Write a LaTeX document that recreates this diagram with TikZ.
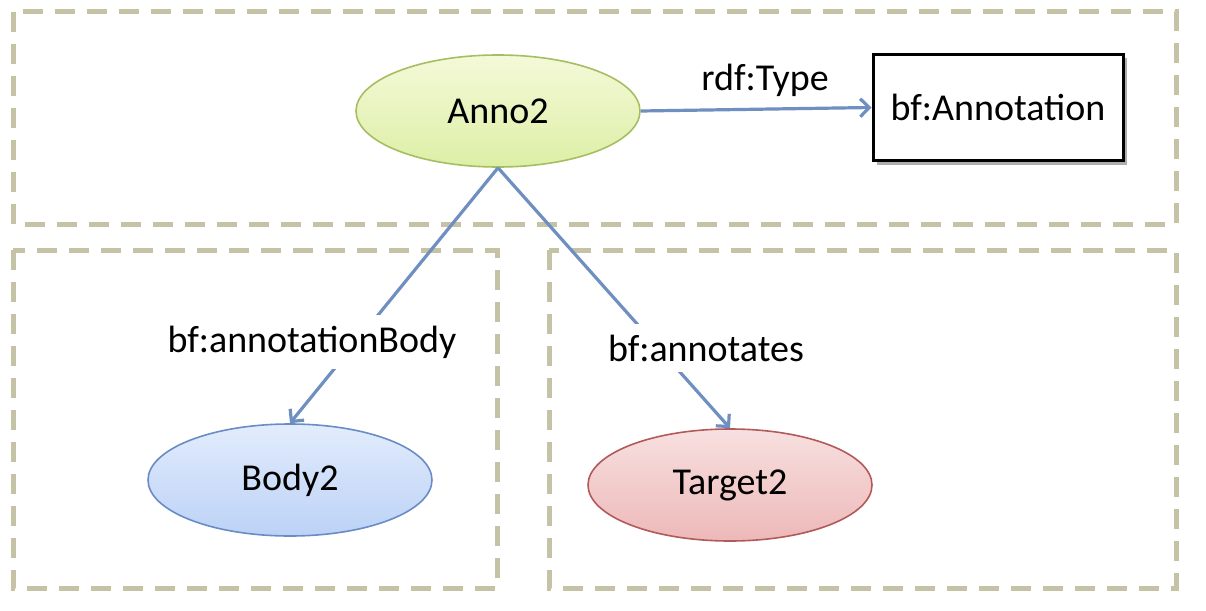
\documentclass[tikz,border=0pt]{standalone}
\usepackage{fontspec}
\setmainfont{Carlito}
\usetikzlibrary{shapes.geometric,arrows.meta,shadows}
\definecolor{dashc}{HTML}{C6C2A6}
\definecolor{arrc}{HTML}{6F8FC0}
\definecolor{annofill1}{HTML}{F4F9D8}
\definecolor{annofill2}{HTML}{DDEFA6}
\definecolor{annodraw}{HTML}{A6BE62}
\definecolor{bodyfill1}{HTML}{E2ECFC}
\definecolor{bodyfill2}{HTML}{BCD2F6}
\definecolor{bodydraw}{HTML}{6A8CC6}
\definecolor{tgtfill1}{HTML}{F8E0E0}
\definecolor{tgtfill2}{HTML}{EDB8B8}
\definecolor{tgtdraw}{HTML}{B25A5A}
\begin{document}
\begin{tikzpicture}[x=1pt,y=-1pt,
  txt/.style={font=\fontsize{38}{44}\selectfont},
  region/.style={draw=dashc, line width=5pt, dash pattern=on 20pt off 12pt},
  ell/.style={ellipse, inner sep=0pt, minimum width=284pt, minimum height=112pt, line width=1.6pt, txt},
  classbox/.style={draw=black, line width=3pt, fill=white, minimum width=250pt, minimum height=106pt, inner sep=0pt, txt,
    drop shadow={shadow xshift=4pt, shadow yshift=-4pt, opacity=0.45, fill=black!70}},
  conn/.style={draw=arrc, line width=3.2pt, -{Straight Barb[length=9pt,width=18pt,line width=3.2pt]}},
  lbl/.style={fill=white, inner xsep=3pt, inner ysep=11pt, txt}
]
\useasboundingbox (0,0) rectangle (1206,610);
\draw[region] (13,12) rectangle (1176,224);
\draw[region] (13,250) rectangle (497,588);
\draw[region] (549,250) rectangle (1176,588);

\node[ell, draw=annodraw, top color=annofill1, bottom color=annofill2] (anno) at (498,111) {Anno2};
\node[classbox] (cls) at (998,107.5) {bf:Annotation};
\node[ell, draw=bodydraw, top color=bodyfill1, bottom color=bodyfill2] (body) at (290,480) {Body2};
\node[ell, draw=tgtdraw, top color=tgtfill1, bottom color=tgtfill2] (tgt) at (730,485) {Target2};

\draw[conn] (anno.east) -- (cls.west);
\node[txt] (ltype) at (765,80) {rdf:Type};

\draw[conn] (anno.south) -- (body.north);
\draw[conn] (anno.south) -- (tgt.north);
\node[lbl] (lbody) at (312,342) {bf:annotationBody};
\node[lbl] (ltgt) at (706,348) {bf:annotates};
\end{tikzpicture}
\end{document}
